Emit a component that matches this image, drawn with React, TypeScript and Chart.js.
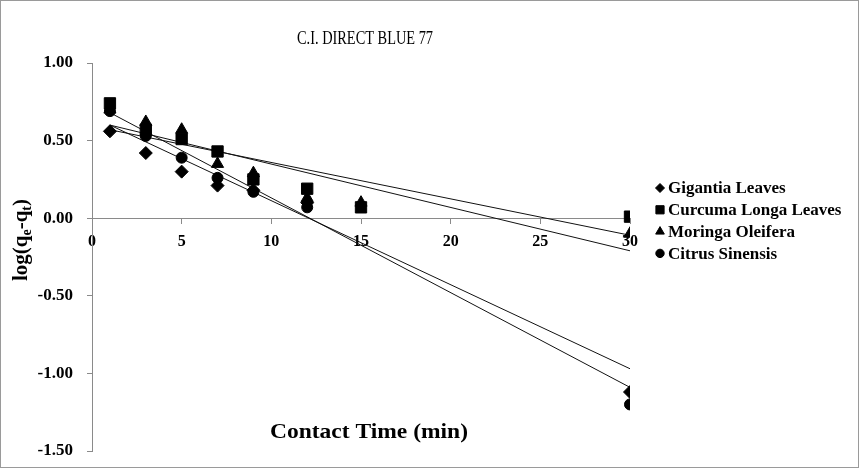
import React, { useEffect, useRef } from 'react';
import { Chart, registerables } from 'chart.js';
import { drawPoint } from 'chart.js/helpers';

Chart.register(...registerables);

// ---- data ----
const contactTime = [1, 3, 5, 7, 9, 12, 15, 30];
const gigantia = [0.56, 0.42, 0.30, 0.21, 0.18, 0.10, null, -1.12];
const curcuma = [0.74, 0.57, 0.51, 0.43, 0.25, 0.19, 0.07, 0.01];
const moringa = [0.70, 0.62, 0.57, 0.35, 0.29, 0.13, 0.10, -0.10];
const citrus = [0.69, 0.53, 0.39, 0.26, 0.17, 0.07, null, -1.20];

const trendX = [1, 30];
const gigantiaTrend = [0.60, -0.97];
const curcumaTrend = [0.57, -0.11];
const moringaTrend = [0.60, -0.21];
const citrusTrend = [0.68, -1.09];

const seriesNames = ['Gigantia Leaves', 'Curcuma Longa Leaves', 'Moringa Oleifera', 'Citrus Sinensis'];
const xTickValues = [0, 5, 10, 15, 20, 25, 30];
const yTickValues = [-1.5, -1.0, -0.5, 0, 0.5, 1.0];

const chartTitle = 'C.I. DIRECT BLUE 77';
const xTitle = 'Contact Time (min)';

const FONT = '"Liberation Serif", "Times New Roman", serif';

const seriesValues = [gigantia, curcuma, moringa, citrus];
const trendValues = [gigantiaTrend, curcumaTrend, moringaTrend, citrusTrend];
const pointStyles = ['rectRot', 'rect', 'triangle', 'circle'];
const pointRadii = [6.5, 8, 7, 5.5];
const legendRadii = [4.5, 5.8, 5, 4.2];

function toPoints(xs: number[], ys: (number | null)[]) {
  const out: { x: number; y: number }[] = [];
  xs.forEach((x, i) => {
    const y = ys[i];
    if (y !== null && y !== undefined) out.push({ x, y });
  });
  return out;
}

function fitText(ctx: CanvasRenderingContext2D, text: string, cx: number, cy: number, targetW: number) {
  const w = ctx.measureText(text).width;
  const s = targetW / w;
  ctx.save();
  ctx.translate(cx, cy);
  ctx.scale(s, 1);
  ctx.fillText(text, 0, 0);
  ctx.restore();
}

const customDraw = {
  id: 'customDraw',
  afterDraw(chart: any) {
    const ctx: CanvasRenderingContext2D = chart.ctx;
    ctx.save();
    // outer frame
    ctx.strokeStyle = '#9a9a9a';
    ctx.lineWidth = 1;
    ctx.strokeRect(0.5, 0.5, chart.width - 1, chart.height - 1);

    ctx.fillStyle = '#000';
    // title
    ctx.font = `19px ${FONT}`;
    ctx.textAlign = 'center';
    ctx.textBaseline = 'middle';
    fitText(ctx, chartTitle, 365, 39, 136);

    // x title
    ctx.font = `bold 22px ${FONT}`;
    fitText(ctx, xTitle, 369, 432, 198);

    // y title with subscripts
    const parts: [string, boolean][] = [['log(q', false], ['e', true], ['-q', false], ['t', true], [')', false]];
    const big = `bold 21px ${FONT}`;
    const small = `bold 14px ${FONT}`;
    let total = 0;
    parts.forEach(([t, sub]) => {
      ctx.font = sub ? small : big;
      total += ctx.measureText(t).width;
    });
    ctx.translate(21, 240);
    ctx.rotate(-Math.PI / 2);
    ctx.textAlign = 'left';
    ctx.textBaseline = 'alphabetic';
    let px = -total / 2;
    parts.forEach(([t, sub]) => {
      ctx.font = sub ? small : big;
      ctx.fillText(t, px, sub ? 10 : 6);
      px += ctx.measureText(t).width;
    });
    ctx.setTransform(1, 0, 0, 1, 0, 0);

    // legend
    ctx.font = `bold 17px ${FONT}`;
    ctx.textAlign = 'left';
    ctx.textBaseline = 'middle';
    seriesNames.forEach((name, i) => {
      const y = 188 + i * 21.8;
      ctx.fillStyle = '#000';
      ctx.strokeStyle = '#000';
      ctx.lineWidth = 1;
      drawPoint(ctx, { pointStyle: pointStyles[i], radius: legendRadii[i], rotation: 0, borderWidth: 1 } as any, 660, y);
      ctx.fillStyle = '#000';
      ctx.fillText(name, 668, y + 1);
    });
    ctx.restore();
  },
};

export default function App() {
  const ref = useRef<HTMLCanvasElement>(null);
  useEffect(() => {
    document.body.style.margin = '0';
    document.body.style.overflow = 'hidden';
    const canvas = ref.current;
    if (!canvas) return;

    const pointSets = seriesNames.map((name, i) => ({
      label: name,
      data: toPoints(contactTime, seriesValues[i]),
      showLine: false,
      pointStyle: pointStyles[i],
      pointRadius: pointRadii[i],
      pointBackgroundColor: '#000',
      pointBorderColor: '#000',
      pointBorderWidth: 1,
      order: 0,
    }));
    const trendSets = seriesNames.map((name, i) => ({
      label: name + ' trend',
      data: toPoints(trendX, trendValues[i]),
      showLine: true,
      borderColor: '#111',
      borderWidth: 1,
      pointRadius: 0,
      fill: false,
      order: 1,
    }));

    const chart = new Chart(canvas, {
      type: 'scatter',
      data: { datasets: [...pointSets, ...trendSets] as any },
      options: {
        animation: false,
        responsive: false,
        devicePixelRatio: 1,
        layout: { padding: { left: 0, right: 229, top: 63, bottom: 17 } },
        plugins: { legend: { display: false }, tooltip: { enabled: false }, title: { display: false } },
        scales: {
          x: {
            type: 'linear',
            position: { y: 0 } as any,
            min: 0,
            max: 30,
            afterBuildTicks: (scale: any) => {
              scale.ticks = xTickValues.map((v) => ({ value: v }));
            },
            afterFit: (scale: any) => {
              scale.paddingLeft = 0;
              scale.paddingRight = 0;
            },
            ticks: {
              font: { family: FONT, size: 16, weight: 'bold' },
              color: '#000',
              padding: 9,
              maxRotation: 0,
              callback: (v: any) => String(v),
            },
            grid: { drawOnChartArea: false, drawTicks: true, tickLength: 5, color: '#8a8a8a' },
            border: { color: '#8a8a8a' },
          },
          y: {
            type: 'linear',
            min: -1.5,
            max: 1.0,
            afterBuildTicks: (scale: any) => {
              scale.ticks = yTickValues.map((v) => ({ value: v }));
            },
            afterFit: (scale: any) => {
              scale.width = 92;
              scale.paddingTop = 0;
              scale.paddingBottom = 0;
            },
            ticks: {
              font: { family: FONT, size: 17, weight: 'bold' },
              color: '#000',
              padding: 14,
              callback: (v: any) => Number(v).toFixed(2),
            },
            grid: { drawOnChartArea: false, drawTicks: true, tickLength: 5, color: '#8a8a8a' },
            border: { color: '#8a8a8a' },
          },
        },
      } as any,
      plugins: [customDraw],
    });
    return () => chart.destroy();
  }, []);

  return (
    <div style={{ width: 859, height: 468, background: '#fff' }}>
      <canvas ref={ref} width={859} height={468} style={{ display: 'block' }} />
    </div>
  );
}
